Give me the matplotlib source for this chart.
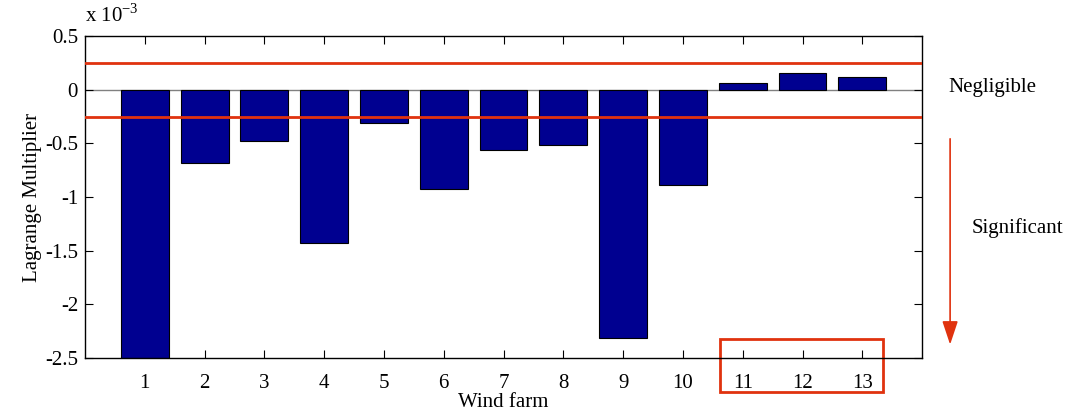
import numpy as np
import matplotlib.pyplot as plt
from matplotlib.patches import Rectangle, FancyArrowPatch
import matplotlib.transforms as mtransforms

plt.rcParams['font.family'] = ['Liberation Serif', 'DejaVu Serif']
plt.rcParams['font.size'] = 15

# Lagrange multipliers per wind farm (in units of 1e-3)
farms = np.arange(1, 14)
multipliers = [-2.5, -0.68, -0.48, -1.43, -0.31, -0.925, -0.558,
               -0.517, -2.32, -0.885, 0.065, 0.152, 0.115]
threshold = 0.25
red = '#E0320E'

fig = plt.figure(figsize=(10.76, 4.16), dpi=100)
ax = fig.add_axes([0.079, 0.14, 0.778, 0.773])

ax.axhline(0, color='#808080', lw=1.0, zorder=1)
ax.bar(farms, multipliers, width=0.8, color='#000090', edgecolor='black',
       linewidth=0.8, zorder=2)
ax.axhline(threshold, color=red, lw=2.0, zorder=3)
ax.axhline(-threshold, color=red, lw=2.0, zorder=3)

ax.set_xlim(0, 14)
ax.set_ylim(-2.5, 0.5)
ax.set_xticks(farms)
ax.set_yticks(np.arange(-2.5, 0.51, 0.5))
ax.set_yticklabels(['-2.5', '-2', '-1.5', '-1', '-0.5', '0', '0.5'])
ax.tick_params(direction='in', top=True, right=True, length=6, width=0.8)
ax.tick_params(axis='x', pad=12)
ax.tick_params(axis='y', pad=5)
for s in ax.spines.values():
    s.set_linewidth(1.0)

ax.set_xlabel('Wind farm', labelpad=0)
ax.set_ylabel('Lagrange Multiplier', labelpad=2)
ax.text(0.0, 1.03, r'x 10$^{\mathregular{-3}}$', transform=ax.transAxes,
        ha='left', va='bottom')

# highlight box around farms 11-13
trans = mtransforms.blended_transform_factory(ax.transData, ax.transAxes)
ax.add_patch(Rectangle((10.62, -0.107), 2.72, 0.165, transform=trans,
                       fill=False, edgecolor=red, lw=2.0, clip_on=False))

# side annotations
fig.text(0.922, 0.79, 'Negligible', ha='center', va='center')
fig.text(0.946, 0.452, 'Significant', ha='center', va='center')
fig.patches.append(FancyArrowPatch(
    (0.883, 0.673), (0.883, 0.165), transform=fig.transFigure,
    arrowstyle='-|>,head_length=0.9,head_width=0.3', mutation_scale=16,
    color=red, lw=1.2))

fig.savefig('out.png', dpi=100)
